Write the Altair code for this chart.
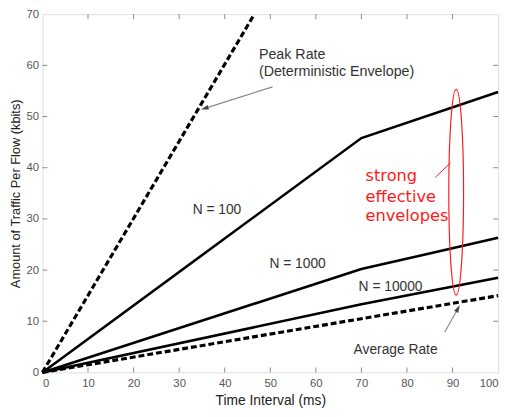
import altair as alt
import pandas as pd

# ---- data ----
peak_x = [0, 46.5]
peak_y = [0, 70]
n100_x = [0, 70, 100]
n100_y = [0, 45.8, 54.8]
n1000_x = [0, 70, 100]
n1000_y = [0, 20.2, 26.3]
n10000_x = [0, 70, 100]
n10000_y = [0, 13.3, 18.5]
avg_x = [0, 100]
avg_y = [0, 15]

x_ticks = [0, 10, 20, 30, 40, 50, 60, 70, 80, 90, 100]
y_ticks = [0, 10, 20, 30, 40, 50, 60, 70]

label_text = ["Peak Rate", "(Deterministic Envelope)", "N = 100", "N = 1000", "N = 10000", "Average Rate"]
label_x = [47.5, 47.5, 38.3, 56.0, 76.4, 77.5]
label_y = [62.1, 58.7, 31.7, 21.2, 16.7, 4.3]
label_align = ["left", "left", "center", "center", "center", "center"]

red_text = ["strong", "effective", "envelopes"]
red_x = [70.9, 70.9, 70.9]
red_y = [37.5, 33.3, 29.5]

arrow_x = [50.5, 88.3]
arrow_y = [55.8, 7.9]
arrow_x2 = [35.6, 91.2]
arrow_y2 = [51.6, 12.5]

ellipse_x = [90.8]
ellipse_y = [35.2]
red_line_x = [86.2]
red_line_y = [38.1]
red_line_x2 = [89.6]
red_line_y2 = [41.0]

W, H = 463, 364
FONT = "Liberation Sans"
GREY = "#8a8a8a"

xs = alt.Scale(domain=[0, 100], nice=False, zero=False)
ys = alt.Scale(domain=[0, 70], nice=False, zero=False)

def series(name, xv, yv):
    return pd.DataFrame({"s": name, "x": xv, "y": yv})

solid_df = pd.concat([series("N = 100", n100_x, n100_y),
                      series("N = 1000", n1000_x, n1000_y),
                      series("N = 10000", n10000_x, n10000_y)])
dash_df = pd.concat([series("Peak", peak_x, peak_y),
                     series("Average", avg_x, avg_y)])

X = alt.X("x:Q", scale=xs,
          axis=alt.Axis(values=x_ticks, title="Time Interval (ms)", ticks=False, domain=False,
                        grid=False, labelFont=FONT, labelFontSize=11.5, labelColor="#555",
                        labelPadding=5, titleFont=FONT, titleFontSize=14, titleFontWeight="normal",
                        titleColor="#222", titlePadding=5))
Y = alt.Y("y:Q", scale=ys,
          axis=alt.Axis(values=y_ticks, title="Amount of Traffic Per Flow (kbits)", ticks=False,
                        domain=False, grid=False, labelFont=FONT, labelFontSize=11.5,
                        labelColor="#555", labelPadding=4, titleFont=FONT, titleFontSize=13,
                        titleFontWeight="normal", titleColor="#222", titlePadding=4))

solid = alt.Chart(solid_df).mark_line(color="black", strokeWidth=2.6).encode(x=X, y=Y, detail="s:N")
dashed = alt.Chart(dash_df).mark_line(color="black", strokeWidth=3.2, strokeDash=[6, 3]).encode(
    x="x:Q", y="y:Q", detail="s:N")

xt = pd.DataFrame({"v": x_ticks[1:-1]})
yt = pd.DataFrame({"v": y_ticks[1:-1]})
tick_bottom = alt.Chart(xt).mark_rule(color=GREY, strokeWidth=1).encode(
    x=alt.X("v:Q", scale=xs), y=alt.value(H), y2=alt.value(H - 5))
tick_top = alt.Chart(xt).mark_rule(color=GREY, strokeWidth=1).encode(
    x=alt.X("v:Q", scale=xs), y=alt.value(0), y2=alt.value(5))
tick_left = alt.Chart(yt).mark_rule(color=GREY, strokeWidth=1).encode(
    y=alt.Y("v:Q", scale=ys), x=alt.value(0), x2=alt.value(5))
tick_right = alt.Chart(yt).mark_rule(color=GREY, strokeWidth=1).encode(
    y=alt.Y("v:Q", scale=ys), x=alt.value(W), x2=alt.value(W - 5))

lab_df = pd.DataFrame({"t": label_text, "x": label_x, "y": label_y, "a": label_align})
labels_left = alt.Chart(lab_df[lab_df.a == "left"]).mark_text(
    font=FONT, fontSize=14.5, color="#333", align="left", baseline="middle").encode(
    x="x:Q", y="y:Q", text="t:N")
labels_center = alt.Chart(lab_df[lab_df.a == "center"]).mark_text(
    font=FONT, fontSize=14, color="#333", align="center", baseline="middle").encode(
    x="x:Q", y="y:Q", text="t:N")

red_df = pd.DataFrame({"t": red_text, "x": red_x, "y": red_y})
red_labels = alt.Chart(red_df).mark_text(
    font="DejaVu Sans", fontSize=16.5, color="#ff1a1a", align="left", baseline="alphabetic").encode(
    x="x:Q", y="y:Q", text="t:N")

arr_df = pd.DataFrame({"x": arrow_x, "y": arrow_y, "x2": arrow_x2, "y2": arrow_y2,
                       "ang": [252.5, 29.0]})
arrows = alt.Chart(arr_df).mark_rule(color=GREY, strokeWidth=1.2).encode(
    x="x:Q", y="y:Q", x2="x2:Q", y2="y2:Q")
heads = alt.Chart(arr_df).mark_point(shape="M0,-1 L0.6,1 L-0.6,1 Z", filled=True, color="#444",
                                     size=60, opacity=1).encode(
    x="x2:Q", y="y2:Q", angle=alt.Angle("ang:Q", scale=None))

ell_df = pd.DataFrame({"x": ellipse_x, "y": ellipse_y})
ellipse = alt.Chart(ell_df).mark_point(
    shape="M0,-1 A0.072,1 0 1,1 0,1 A0.072,1 0 1,1 0,-1 Z",
    filled=False, color="#ff1a1a", strokeWidth=1.2, size=43700, opacity=1).encode(x="x:Q", y="y:Q")

rl_df = pd.DataFrame({"x": red_line_x, "y": red_line_y, "x2": red_line_x2, "y2": red_line_y2})
red_line = alt.Chart(rl_df).mark_rule(color="#ff1a1a", strokeWidth=1).encode(
    x="x:Q", y="y:Q", x2="x2:Q", y2="y2:Q")

chart = alt.layer(solid, dashed, tick_bottom, tick_top, tick_left, tick_right,
                  labels_left, labels_center, red_labels, arrows, heads, ellipse, red_line).properties(
    width=W, height=H,
    autosize=alt.AutoSizeParams(type="none"),
    padding={"left": 35, "top": 3, "right": 7, "bottom": 42},
).configure_view(stroke=GREY, strokeWidth=1.5).configure(background="white")

chart.save("out.html", embed_options={"renderer": "svg", "actions": False})
